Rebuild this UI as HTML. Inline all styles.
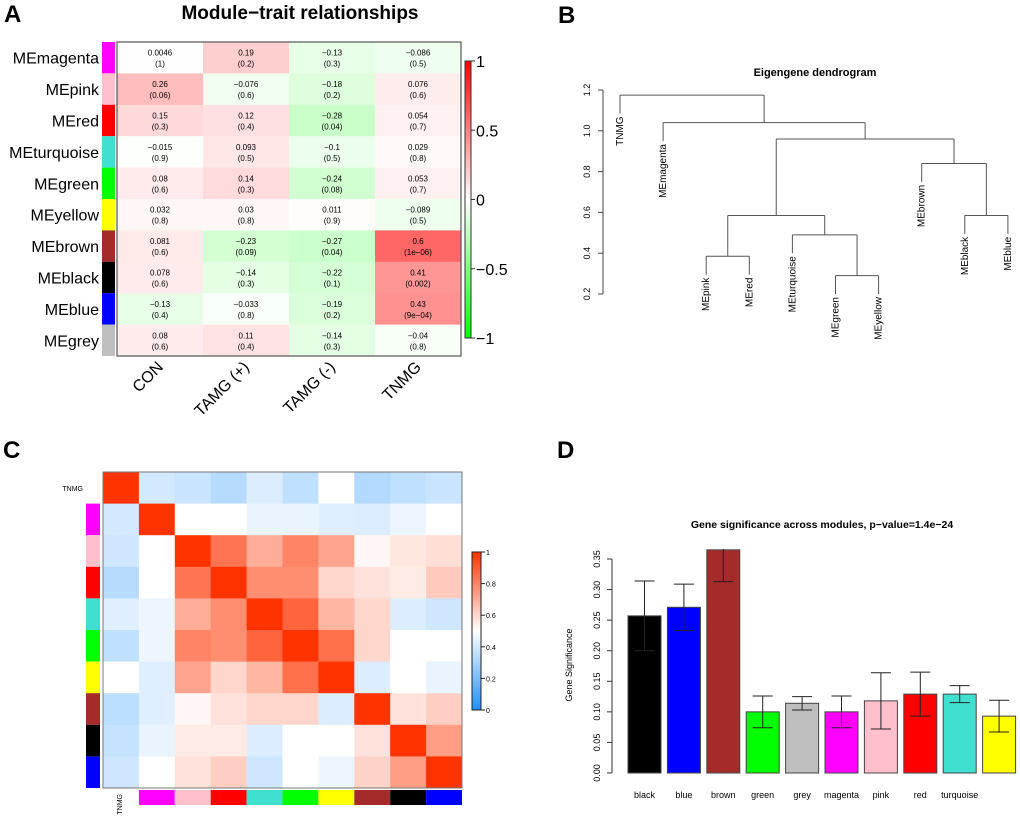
<!DOCTYPE html>
<html><head><meta charset="utf-8"><style>
body{margin:0;background:#fff}
svg{display:block;font-family:"Liberation Sans",Arial,sans-serif}
</style></head><body>
<svg id="fig" width="1020" height="826" viewBox="0 0 1020 826" xmlns="http://www.w3.org/2000/svg">
<text x="4" y="22" font-size="24" font-weight="bold">A</text>
<text x="48" y="23" font-size="24" font-weight="bold" transform="translate(510,0)">B</text>
<text x="3" y="458" font-size="24" font-weight="bold">C</text>
<text x="557" y="458" font-size="24" font-weight="bold">D</text>
<g id="pa"></g>
<g id="pb"></g>
<g id="pc"></g>
<g id="pd"></g>
</svg>
<script>
// ---- Panel A data
const aModules = ["magenta","pink","red","turquoise","green","yellow","brown","black","blue","grey"];
const aModuleColors = ["#ff00ff","#ffc0cb","#ff0000","#40e0d0","#00ff00","#ffff00","#a52a2a","#000000","#0000ff","#bebebe"];
const aTraits = ["CON","TAMG (+)","TAMG (-)","TNMG"];
const aCor = [
 [0.0046,0.19,-0.13,-0.086],[0.26,-0.076,-0.18,0.076],[0.15,0.12,-0.28,0.054],[-0.015,0.093,-0.1,0.029],
 [0.08,0.14,-0.24,0.053],[0.032,0.03,0.011,-0.089],[0.081,-0.23,-0.27,0.6],[0.078,-0.14,-0.22,0.41],
 [-0.13,-0.033,-0.19,0.43],[0.08,0.11,-0.14,-0.04]];
const aCorText = [
 ["0.0046","0.19","\u22120.13","\u22120.086"],["0.26","\u22120.076","\u22120.18","0.076"],["0.15","0.12","\u22120.28","0.054"],["\u22120.015","0.093","\u22120.1","0.029"],
 ["0.08","0.14","\u22120.24","0.053"],["0.032","0.03","0.011","\u22120.089"],["0.081","\u22120.23","\u22120.27","0.6"],["0.078","\u22120.14","\u22120.22","0.41"],
 ["\u22120.13","\u22120.033","\u22120.19","0.43"],["0.08","0.11","\u22120.14","\u22120.04"]];
const aPval = [
 ["(1)","(0.2)","(0.3)","(0.5)"],["(0.06)","(0.6)","(0.2)","(0.6)"],["(0.3)","(0.4)","(0.04)","(0.7)"],["(0.9)","(0.5)","(0.5)","(0.8)"],
 ["(0.6)","(0.3)","(0.08)","(0.7)"],["(0.8)","(0.8)","(0.9)","(0.5)"],["(0.6)","(0.09)","(0.04)","(1e\u221206)"],["(0.6)","(0.3)","(0.1)","(0.002)"],
 ["(0.4)","(0.8)","(0.2)","(9e\u221204)"],["(0.6)","(0.4)","(0.3)","(0.8)"]];
const aScaleTicks = [1,0.5,0,-0.5,-1];
const aScaleLabels = ["1","0.5","0","\u22120.5","\u22121"];
// ---- Panel B data
const bLeaves = ["TNMG","MEmagenta","MEpink","MEred","MEturquoise","MEgreen","MEyellow","MEbrown","MEblack","MEblue"];
const bMerges = [[-6,-7],[-3,-4],[-5,1],[-9,-10],[2,3],[-8,4],[5,6],[-2,7],[-1,8]];
const bHeights = [0.29,0.385,0.49,0.585,0.585,0.84,0.96,1.04,1.175];
const bTicks = [0.2,0.4,0.6,0.8,1.0,1.2];
// ---- Panel C data
const cLabels = ["TNMG","magenta","pink","red","turquoise","green","yellow","brown","black","blue"];
const cColors = [null,"#ff00ff","#ffc0cb","#ff0000","#40e0d0","#00ff00","#ffff00","#a52a2a","#000000","#0000ff"];
const cAdj = [
 [1,.4,.38,.34,.42,.36,.5,.33,.36,.38],
 [.4,1,.5,.5,.45,.45,.43,.42,.46,.5],
 [.39,.5,1,.84,.7,.8,.72,.52,.56,.58],
 [.34,.5,.84,1,.78,.78,.6,.57,.55,.63],
 [.43,.46,.7,.78,1,.88,.68,.6,.42,.39],
 [.36,.46,.8,.78,.88,1,.85,.6,.5,.5],
 [.5,.43,.72,.6,.68,.85,1,.42,.5,.45],
 [.35,.43,.52,.57,.6,.6,.42,1,.57,.62],
 [.37,.45,.55,.55,.42,.5,.5,.57,1,.74],
 [.39,.5,.57,.62,.39,.5,.46,.61,.74,1]];
const cTicks = [0,0.2,0.4,0.6,0.8,1];
// ---- Panel D data
const dCats = ["black","blue","brown","green","grey","magenta","pink","red","turquoise","yellow"];
const dShownLabels = ["black","blue","brown","green","grey","magenta","pink","red","turquoise",""];
const dFill = ["#000000","#0000ff","#a52a2a","#00ff00","#bebebe","#ff00ff","#ffc0cb","#ff0000","#40e0d0","#ffff00"];
const dVals = [0.257,0.271,0.365,0.100,0.114,0.100,0.118,0.129,0.129,0.093];
const dErr = [0.057,0.038,0.052,0.026,0.011,0.026,0.046,0.036,0.014,0.026];
const dTicks = [0,0.05,0.1,0.15,0.2,0.25,0.3,0.35];
const dTickLabels = ["0.00","0.05","0.10","0.15","0.20","0.25","0.30","0.35"];

const NS="http://www.w3.org/2000/svg";
function mk(parent,tag,attrs,text){const e=document.createElementNS(NS,tag);for(const k in attrs)e.setAttribute(k,attrs[k]);if(text!==undefined)e.textContent=text;parent.appendChild(e);return e;}

// ================= Panel A
(function(){
 const g=document.getElementById('pa');
 const x0=117,x1=461,y0=42,y1=356;
 const cw=(x1-x0)/aTraits.length, ch=(y1-y0)/aModules.length;
 function col(v){if(v>=0){const c=Math.round(255*(1-v));return `rgb(255,${c},${c})`;}const c=Math.round(255*(1+v*0.75));return `rgb(${c},255,${c})`;}
 let t=mk(g,'text',{x:300,y:19,'font-size':19,'font-weight':'bold','text-anchor':'middle'},"Module\u2212trait relationships");
 
 aModules.forEach((m,i)=>{
  const y=y0+i*ch;
  let r=mk(g,'rect',{x:102,y:y,width:13,height:ch,fill:aModuleColors[i]});
  
  let l=mk(g,'text',{x:99,y:y+ch/2+6,'font-size':16,'text-anchor':'end'},'ME'+m);
  
  aTraits.forEach((tr,j)=>{
   const x=x0+j*cw;
   let c=mk(g,'rect',{x:x,y:y,width:cw+0.5,height:ch+0.5,fill:col(aCor[i][j])});
   
   let a=mk(g,'text',{x:x+cw/2,y:y+ch/2-2,'font-size':8,'text-anchor':'middle'},aCorText[i][j]);
   
   let b=mk(g,'text',{x:x+cw/2,y:y+ch/2+9,'font-size':8,'text-anchor':'middle'},aPval[i][j]);
   
  });
 });
 let bx=mk(g,'rect',{x:x0,y:y0,width:x1-x0,height:y1-y0,fill:'none',stroke:'#555','stroke-width':1.2});
 
 aTraits.forEach((tr,j)=>{
  const cx=x0+(j+0.5)*cw+4;
  let l=mk(g,'text',{x:cx,y:368,'font-size':16,'text-anchor':'end',transform:`rotate(-45 ${cx} 368)`},tr);
  
 });
 const cy0=61,cy1=338;
 const defs=mk(g,'defs',{});const lg=mk(defs,'linearGradient',{id:'ga',x1:0,y1:0,x2:0,y2:1});
 mk(lg,'stop',{offset:'0','stop-color':'#ff0000'});mk(lg,'stop',{offset:'0.5','stop-color':'#ffffff'});mk(lg,'stop',{offset:'1','stop-color':'#00ff00'});
 let cb=mk(g,'rect',{x:465,y:cy0,width:6,height:cy1-cy0,fill:'url(#ga)',stroke:'#333','stroke-width':1});
 
 aScaleTicks.forEach((v,k)=>{
  const y=cy0+(1-v)/2*(cy1-cy0);
  mk(g,'line',{x1:471,x2:475,y1:y,y2:y,stroke:'#333'});
  let l=mk(g,'text',{x:476,y:y+6,'font-size':16},aScaleLabels[k]);
  
 });
})();

// ================= Panel B
(function(){
 const g=document.getElementById('pb');
 const yOf=h=>90+(1.2-h)*204;
 const leafX=i=>620+i*43.1;
 const hang=0.09;
 let t=mk(g,'text',{x:815,y:76,'font-size':11,'font-weight':'bold','text-anchor':'middle'},'Eigengene dendrogram');
 
 mk(g,'line',{x1:603,x2:603,y1:yOf(0.2),y2:yOf(1.2),stroke:'#444'});
 bTicks.forEach(v=>{const y=yOf(v);mk(g,'line',{x1:598,x2:603,y1:y,y2:y,stroke:'#444'});
  let l=mk(g,'text',{x:590,y:y,'font-size':9,'text-anchor':'middle',transform:`rotate(-90 590 ${y})`},v.toFixed(1));
  });
 const node=[];
 function info(id){if(id<0){return {x:leafX(-id-1),leaf:-id-1,h:null};}return {x:node[id-1],leaf:null,h:bHeights[id-1]};}
 bMerges.forEach((m,k)=>{
  const h=bHeights[k],yh=yOf(h);
  const a=info(m[0]),b=info(m[1]);
  [a,b].forEach(s=>{
   let yb;
   if(s.leaf!==null){yb=yOf(h-hang);
    const lx=s.x,ly=yb+3;
    let l=mk(g,'text',{x:lx+3,y:ly,'font-size':10,'text-anchor':'end',transform:`rotate(-90 ${lx+3} ${ly})`},bLeaves[s.leaf]);
    
   } else yb=yOf(s.h);
   mk(g,'line',{x1:s.x,x2:s.x,y1:yh,y2:yb,stroke:'#555','stroke-width':1});
  });
  mk(g,'line',{x1:a.x,x2:b.x,y1:yh,y2:yh,stroke:'#555','stroke-width':1});
  node.push((a.x+b.x)/2);
 });
})();

// ================= Panel C
(function(){
 const g=document.getElementById('pc');
 const x0=103,x1=462,y0=472,y1=788,n=cLabels.length;
 const cw=(x1-x0)/n,ch=(y1-y0)/n;
 function col(v){if(v>=0.5){const f=(v-0.5)/0.5;return `rgb(255,${Math.round(255-204*f)},${Math.round(255-255*f)})`;}
  const f=(0.5-v)/0.5;return `rgb(${Math.round(255-225*f)},${Math.round(255-111*f)},255)`;}
 cAdj.forEach((row,i)=>row.forEach((v,j)=>{
  let r=mk(g,'rect',{x:x0+j*cw,y:y0+i*ch,width:cw+0.5,height:ch+0.5,fill:col(v)});
  
 }));
 let f=mk(g,'rect',{x:x0,y:y0,width:x1-x0,height:y1-y0,fill:'none',stroke:'#777','stroke-width':1});
 
 cColors.forEach((c,i)=>{if(!c)return;
  let r=mk(g,'rect',{x:86,y:y0+i*ch,width:14,height:ch,fill:c});
  
  let b=mk(g,'rect',{x:x0+i*cw,y:790,width:cw,height:15,fill:c});
  
 });
 let t1=mk(g,'text',{x:83,y:491,'font-size':7,'text-anchor':'end'},'TNMG');
 
 let t2=mk(g,'text',{x:122,y:794,'font-size':7,'text-anchor':'end',transform:'rotate(-90 122 794)'},'TNMG');
 
 const cy0=552,cy1=710;
 const defs=mk(g,'defs',{});const lg=mk(defs,'linearGradient',{id:'gc',x1:0,y1:0,x2:0,y2:1});
 mk(lg,'stop',{offset:'0','stop-color':'#ff3300'});mk(lg,'stop',{offset:'0.5','stop-color':'#ffffff'});mk(lg,'stop',{offset:'1','stop-color':'#1e90ff'});
 let cb=mk(g,'rect',{x:472,y:cy0,width:9,height:cy1-cy0,fill:'url(#gc)',stroke:'#222','stroke-width':1});
 
 cTicks.forEach(v=>{const y=cy1-v*(cy1-cy0);mk(g,'line',{x1:481,x2:485,y1:y,y2:y,stroke:'#222'});
  let l=mk(g,'text',{x:486,y:y+3,'font-size':7},String(v));
  });
})();

// ================= Panel D
(function(){
 const g=document.getElementById('pd');
 const yOf=v=>773-v*(773-559)/0.35;
 const step=39.4,bw=33,xs=628;
 const top=549;
 let t=mk(g,'text',{x:822,y:528,'font-size':10.5,'font-weight':'bold','text-anchor':'middle'},'Gene significance across modules, p\u2212value=1.4e\u221224');
 
 let yl=mk(g,'text',{x:572,y:665,'font-size':9,'text-anchor':'middle',transform:'rotate(-90 572 665)'},'Gene Significance');
 
 mk(g,'line',{x1:612,x2:612,y1:yOf(0),y2:yOf(0.35),stroke:'#333'});
 dTicks.forEach((v,k)=>{const y=yOf(v);mk(g,'line',{x1:607,x2:612,y1:y,y2:y,stroke:'#333'});
  let l=mk(g,'text',{x:600,y:y,'font-size':9,'text-anchor':'middle',transform:`rotate(-90 600 ${y})`},dTickLabels[k]);
  });
 dCats.forEach((c,i)=>{
  const x=xs+i*step,cx=x+bw/2;
  const yt=Math.max(top,yOf(dVals[i]));
  let b=mk(g,'rect',{x:x,y:yt,width:bw,height:yOf(0)-yt,fill:dFill[i],stroke:'#444','stroke-width':1});
  
  const yu=Math.max(top,yOf(dVals[i]+dErr[i])),yd=yOf(dVals[i]-dErr[i]);
  mk(g,'line',{x1:cx,x2:cx,y1:yu,y2:yd,stroke:'#222'});
  if(yOf(dVals[i]+dErr[i])>=top)mk(g,'line',{x1:cx-10,x2:cx+10,y1:yu,y2:yu,stroke:'#222'});
  mk(g,'line',{x1:cx-10,x2:cx+10,y1:yd,y2:yd,stroke:'#222'});
  if(dShownLabels[i]){
   let l=mk(g,'text',{x:cx,y:798,'font-size':9,'text-anchor':'middle'},dShownLabels[i]);
   
  }
 });
})();
</script>
</body></html>
